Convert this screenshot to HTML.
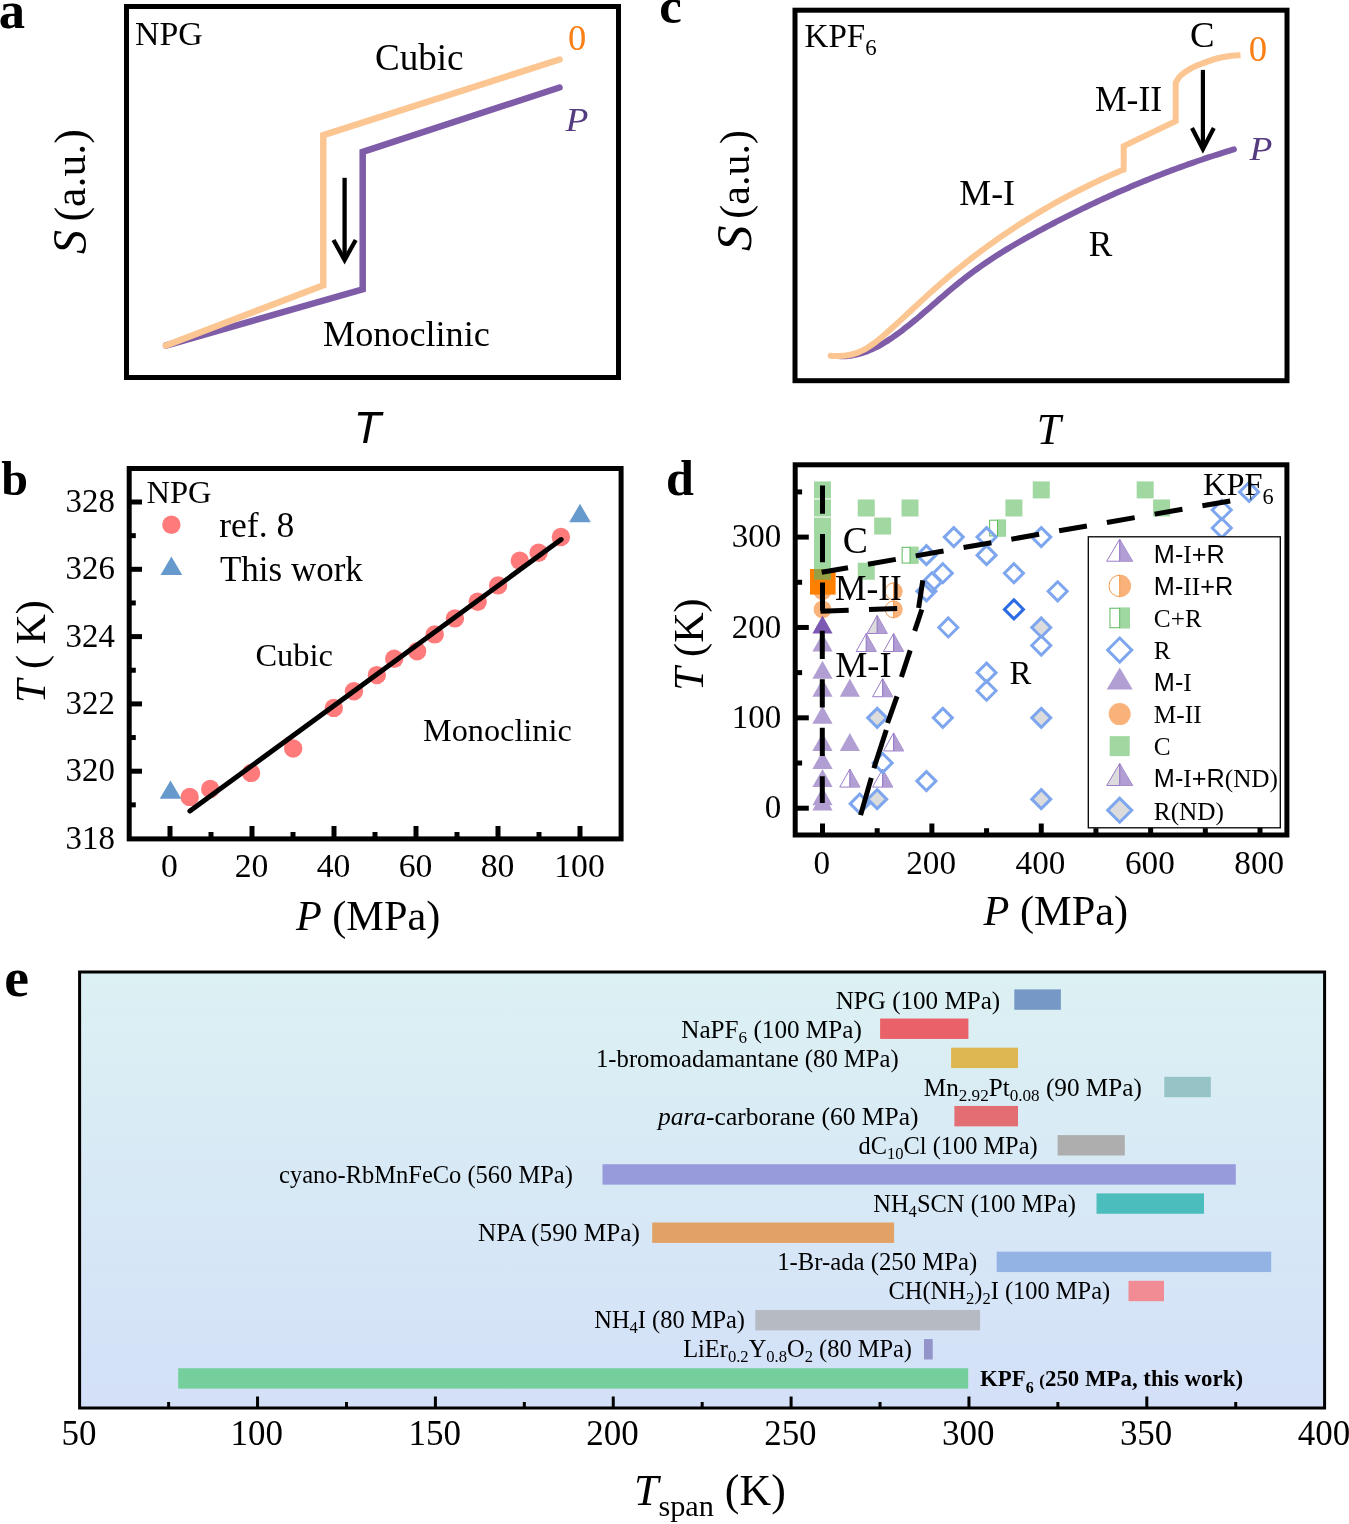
<!DOCTYPE html>
<html><head><meta charset="utf-8"><style>
html,body{margin:0;padding:0;background:#fff;overflow:hidden;width:1349px;height:1524px;}
svg{display:block;will-change:transform;}
</style></head><body>
<svg width="1349" height="1524" viewBox="0 0 1349 1524">
<rect width="1349" height="1524" fill="#fff"/>
<g transform="translate(-1.192,28.086) scale(1.09618) translate(0.000,-27.000)"><text x="0.00" y="27.00" font-family="'Liberation Serif', serif" font-size="48" text-anchor="start" fill="#000" font-weight="bold" font-style="normal">a</text></g>
<rect x="126.5" y="6.5" width="492" height="371" fill="none" stroke="#000" stroke-width="5"/>
<g transform="translate(135.093,44.893) scale(0.99435) translate(-136.000,-45.000)"><text x="136.00" y="45.00" font-family="'Liberation Serif', serif" font-size="34" text-anchor="start" fill="#000" font-weight="normal" font-style="normal">NPG</text></g>
<g transform="translate(374.937,70.501) scale(1.03134) translate(-376.000,-70.000)"><text x="376.00" y="70.00" font-family="'Liberation Serif', serif" font-size="36" text-anchor="start" fill="#000" font-weight="normal" font-style="normal">Cubic</text></g>
<g transform="translate(567.925,50.282) scale(1.07500) translate(-568.000,-49.600)"><text x="568.00" y="49.60" font-family="'Liberation Serif', serif" font-size="34" text-anchor="start" fill="#FA7F14" font-weight="normal" font-style="normal">0</text></g>
<g transform="translate(565.499,131.382) scale(1.00309) translate(-566.000,-131.400)"><g transform="translate(566,0) scale(1.1,1) translate(-566,0)"><text x="566.00" y="131.40" font-family="'Liberation Serif', serif" font-size="34" text-anchor="start" fill="#553B80" font-weight="normal" font-style="italic">P</text></g></g>
<polyline points="166,345.5 362.7,289.4 362.7,151.9 559.5,87.5" fill="none" stroke="#7F5CA8" stroke-width="6.5" stroke-linecap="round" stroke-linejoin="miter"/>
<polyline points="166,345.5 323.3,285.3 323.3,135.2 559.5,59.5" fill="none" stroke="#FCC693" stroke-width="6.5" stroke-linecap="round" stroke-linejoin="miter"/>
<line x1="344.6" y1="177.8" x2="344.6" y2="259" stroke="#000" stroke-width="4.3"/>
<polyline points="333.5,240 344.6,260 355.7,240" fill="none" stroke="#000" stroke-width="4.3" stroke-linejoin="miter"/>
<g transform="translate(322.995,346.200) scale(1.00550) translate(-324.000,-346.300)"><text x="324.00" y="346.30" font-family="'Liberation Serif', serif" font-size="36" text-anchor="start" fill="#000" font-weight="normal" font-style="normal">Monoclinic</text></g>
<g transform="translate(86.000,254.045) scale(1.04743) translate(-86.000,-253.500)"><text transform="translate(86,253.5) rotate(-90)" font-family="'Liberation Serif', serif" font-size="46" font-style="italic">S</text></g>
<g transform="translate(85.085,221.618) scale(1.00805) translate(-86.000,-220.000)"><text transform="translate(86,220) rotate(-90)" font-family="'Liberation Serif', serif" font-size="43.5">(a.u.)</text></g>
<g transform="translate(353.643,442.602) scale(0.99035) translate(-358.000,-442.900)"><text x="358.00" y="442.90" font-family="'Liberation Sans', sans-serif" font-size="45" text-anchor="start" fill="#000" font-weight="normal" font-style="italic">T</text></g>
<g transform="translate(659.357,23.400) scale(1.05849) translate(-660.000,-23.300)"><text x="660.00" y="23.30" font-family="'Liberation Serif', serif" font-size="48" text-anchor="start" fill="#000" font-weight="bold" font-style="normal">c</text></g>
<rect x="795" y="10.2" width="492" height="370.5" fill="none" stroke="#000" stroke-width="5"/>
<g transform="translate(804.568,46.858) scale(1.01771) translate(-805.000,-47.100)"><text x="805" y="47.1" font-family="'Liberation Serif', serif" font-size="32.5">KPF<tspan font-size="22.5" dy="8">6</tspan></text></g>
<g transform="translate(1189.957,46.792) scale(1.02126) translate(-1191.000,-45.900)"><text x="1191.00" y="45.90" font-family="'Liberation Serif', serif" font-size="36" text-anchor="start" fill="#000" font-weight="normal" font-style="normal">C</text></g>
<g transform="translate(1248.852,60.694) scale(1.02126) translate(-1249.000,-60.200)"><text x="1249.00" y="60.20" font-family="'Liberation Serif', serif" font-size="36" text-anchor="start" fill="#FA7F14" font-weight="normal" font-style="normal">0</text></g>
<g transform="translate(1249.534,159.966) scale(1.00309) translate(-1250.000,-159.500)"><g transform="translate(1250,0) scale(1.1,1) translate(-1250,0)"><text x="1250.00" y="159.50" font-family="'Liberation Serif', serif" font-size="34" text-anchor="start" fill="#553B80" font-weight="normal" font-style="italic">P</text></g></g>
<g transform="translate(1094.877,111.000) scale(1.01728) translate(-1096.000,-111.000)"><text x="1096.00" y="111.00" font-family="'Liberation Serif', serif" font-size="35" text-anchor="start" fill="#000" font-weight="normal" font-style="normal">M-II</text></g>
<g transform="translate(959.305,204.599) scale(0.99445) translate(-960.000,-204.400)"><text x="960.00" y="204.40" font-family="'Liberation Serif', serif" font-size="36" text-anchor="start" fill="#000" font-weight="normal" font-style="normal">M-I</text></g>
<g transform="translate(1088.786,256.000) scale(1.00698) translate(-1089.000,-256.000)"><text x="1089.00" y="256.00" font-family="'Liberation Serif', serif" font-size="35" text-anchor="start" fill="#000" font-weight="normal" font-style="normal">R</text></g>
<path d="M 840.00 356.33 C 840.50 356.33 842.00 356.34 843.00 356.31 C 844.00 356.28 845.00 356.23 846.00 356.15 C 847.00 356.08 848.00 355.98 849.00 355.86 C 850.00 355.74 851.00 355.60 852.00 355.43 C 853.00 355.27 854.00 355.08 855.00 354.88 C 856.00 354.67 857.00 354.44 858.00 354.19 C 859.00 353.94 860.00 353.66 861.00 353.37 C 862.00 353.07 863.00 352.75 864.00 352.41 C 865.00 352.07 866.00 351.71 867.00 351.33 C 868.00 350.95 869.00 350.54 870.00 350.11 C 871.00 349.69 872.00 349.24 873.00 348.77 C 874.00 348.31 875.00 347.82 876.00 347.31 C 877.00 346.81 878.00 346.28 879.00 345.74 C 880.00 345.20 881.00 344.63 882.00 344.06 C 883.00 343.48 884.00 342.88 885.00 342.27 C 886.00 341.66 887.00 341.04 888.00 340.40 C 889.00 339.75 890.00 339.10 891.00 338.43 C 892.00 337.76 893.00 337.07 894.00 336.38 C 895.00 335.68 896.00 334.97 897.00 334.25 C 898.00 333.53 899.00 332.79 900.00 332.05 C 901.00 331.30 902.00 330.55 903.00 329.78 C 904.00 329.02 905.00 328.24 906.00 327.46 C 907.00 326.67 908.00 325.88 909.00 325.08 C 910.00 324.28 911.00 323.47 912.00 322.65 C 913.00 321.84 914.00 321.01 915.00 320.18 C 916.00 319.36 917.00 318.52 918.00 317.68 C 919.00 316.84 920.00 315.99 921.00 315.14 C 922.00 314.29 923.00 313.44 924.00 312.58 C 925.00 311.72 926.00 310.86 927.00 310.00 C 928.00 309.13 929.00 308.27 930.00 307.40 C 931.00 306.53 932.00 305.66 933.00 304.79 C 934.00 303.93 935.00 303.06 936.00 302.19 C 937.00 301.32 938.00 300.45 939.00 299.58 C 940.00 298.71 941.00 297.85 942.00 296.98 C 943.00 296.12 944.00 295.26 945.00 294.40 C 946.00 293.54 947.00 292.69 948.00 291.84 C 949.00 290.98 950.00 290.14 951.00 289.30 C 952.00 288.46 953.00 287.62 954.00 286.79 C 955.00 285.96 956.00 285.13 957.00 284.32 C 958.00 283.50 959.00 282.69 960.00 281.89 C 961.00 281.09 962.00 280.29 963.00 279.50 C 964.00 278.72 965.00 277.94 966.00 277.17 C 967.00 276.40 968.00 275.63 969.00 274.88 C 970.00 274.12 971.00 273.37 972.00 272.63 C 973.00 271.89 974.00 271.15 975.00 270.42 C 976.00 269.70 977.00 268.97 978.00 268.26 C 979.00 267.54 980.00 266.84 981.00 266.13 C 982.00 265.43 983.00 264.74 984.00 264.05 C 985.00 263.36 986.00 262.68 987.00 262.00 C 988.00 261.32 989.00 260.65 990.00 259.98 C 991.00 259.32 992.00 258.66 993.00 258.00 C 994.00 257.35 995.00 256.70 996.00 256.06 C 997.00 255.41 998.00 254.78 999.00 254.14 C 1000.00 253.51 1001.00 252.88 1002.00 252.26 C 1003.00 251.63 1004.00 251.01 1005.00 250.40 C 1006.00 249.78 1007.00 249.18 1008.00 248.57 C 1009.00 247.96 1010.00 247.36 1011.00 246.77 C 1012.00 246.17 1013.00 245.58 1014.00 244.99 C 1015.00 244.40 1016.00 243.81 1017.00 243.23 C 1018.00 242.65 1019.00 242.07 1020.00 241.50 C 1021.00 240.92 1022.00 240.35 1023.00 239.78 C 1024.00 239.22 1025.00 238.65 1026.00 238.09 C 1027.00 237.53 1028.00 236.97 1029.00 236.42 C 1030.00 235.86 1031.00 235.31 1032.00 234.76 C 1033.00 234.21 1034.00 233.66 1035.00 233.11 C 1036.00 232.57 1037.00 232.02 1038.00 231.48 C 1039.00 230.94 1040.00 230.40 1041.00 229.86 C 1042.00 229.33 1043.00 228.79 1044.00 228.26 C 1045.00 227.72 1046.00 227.19 1047.00 226.66 C 1048.00 226.13 1049.00 225.60 1050.00 225.08 C 1051.00 224.55 1052.00 224.03 1053.00 223.50 C 1054.00 222.98 1055.00 222.46 1056.00 221.94 C 1057.00 221.43 1058.00 220.91 1059.00 220.39 C 1060.00 219.88 1061.00 219.37 1062.00 218.86 C 1063.00 218.35 1064.00 217.84 1065.00 217.33 C 1066.00 216.82 1067.00 216.32 1068.00 215.82 C 1069.00 215.31 1070.00 214.81 1071.00 214.31 C 1072.00 213.81 1073.00 213.31 1074.00 212.82 C 1075.00 212.32 1076.00 211.83 1077.00 211.34 C 1078.00 210.85 1079.00 210.36 1080.00 209.87 C 1081.00 209.38 1082.00 208.89 1083.00 208.41 C 1084.00 207.93 1085.00 207.44 1086.00 206.96 C 1087.00 206.48 1088.00 206.00 1089.00 205.53 C 1090.00 205.05 1091.00 204.58 1092.00 204.10 C 1093.00 203.63 1094.00 203.16 1095.00 202.69 C 1096.00 202.22 1097.00 201.75 1098.00 201.29 C 1099.00 200.82 1100.00 200.36 1101.00 199.90 C 1102.00 199.44 1103.00 198.98 1104.00 198.52 C 1105.00 198.06 1106.00 197.60 1107.00 197.15 C 1108.00 196.70 1109.00 196.24 1110.00 195.79 C 1111.00 195.34 1112.00 194.89 1113.00 194.45 C 1114.00 194.00 1115.00 193.56 1116.00 193.11 C 1117.00 192.67 1118.00 192.23 1119.00 191.79 C 1120.00 191.35 1121.00 190.91 1122.00 190.48 C 1123.00 190.04 1124.00 189.61 1125.00 189.18 C 1126.00 188.75 1127.00 188.32 1128.00 187.89 C 1129.00 187.46 1130.00 187.03 1131.00 186.61 C 1132.00 186.18 1133.00 185.76 1134.00 185.34 C 1135.00 184.92 1136.00 184.50 1137.00 184.08 C 1138.00 183.67 1139.00 183.25 1140.00 182.84 C 1141.00 182.43 1142.00 182.01 1143.00 181.60 C 1144.00 181.19 1145.00 180.79 1146.00 180.38 C 1147.00 179.98 1148.00 179.57 1149.00 179.17 C 1150.00 178.77 1151.00 178.37 1152.00 177.97 C 1153.00 177.57 1154.00 177.17 1155.00 176.78 C 1156.00 176.38 1157.00 175.99 1158.00 175.60 C 1159.00 175.21 1160.00 174.82 1161.00 174.43 C 1162.00 174.04 1163.00 173.66 1164.00 173.27 C 1165.00 172.89 1166.00 172.51 1167.00 172.13 C 1168.00 171.75 1169.00 171.37 1170.00 170.99 C 1171.00 170.62 1172.00 170.24 1173.00 169.87 C 1174.00 169.49 1175.00 169.12 1176.00 168.75 C 1177.00 168.38 1178.00 168.02 1179.00 167.65 C 1180.00 167.29 1181.00 166.92 1182.00 166.56 C 1183.00 166.20 1184.00 165.84 1185.00 165.48 C 1186.00 165.12 1187.00 164.76 1188.00 164.41 C 1189.00 164.05 1190.00 163.70 1191.00 163.35 C 1192.00 163.00 1193.00 162.65 1194.00 162.30 C 1195.00 161.96 1196.00 161.61 1197.00 161.27 C 1198.00 160.92 1199.00 160.58 1200.00 160.24 C 1201.00 159.90 1202.00 159.56 1203.00 159.22 C 1204.00 158.89 1205.00 158.55 1206.00 158.22 C 1207.00 157.89 1208.00 157.55 1209.00 157.22 C 1210.00 156.90 1211.00 156.57 1212.00 156.24 C 1213.00 155.92 1214.00 155.59 1215.00 155.27 C 1216.00 154.95 1217.00 154.63 1218.00 154.31 C 1219.00 153.99 1220.00 153.67 1221.00 153.36 C 1222.00 153.04 1223.00 152.73 1224.00 152.42 C 1225.00 152.11 1226.00 151.80 1227.00 151.49 C 1228.00 151.18 1229.00 150.87 1230.00 150.57 C 1231.00 150.26 1232.35 149.86 1233.00 149.66 C 1233.65 149.46 1233.75 149.44 1233.90 149.39 " fill="none" stroke="#7F5CA8" stroke-width="6" stroke-linecap="round"/>
<path d="M 830.60 355.87 C 831.10 355.88 832.60 355.92 833.60 355.94 C 834.60 355.95 835.60 355.96 836.60 355.96 C 837.60 355.96 838.60 355.94 839.60 355.91 C 840.60 355.88 841.60 355.83 842.60 355.76 C 843.60 355.69 844.60 355.61 845.60 355.49 C 846.60 355.37 847.60 355.24 848.60 355.07 C 849.60 354.90 850.60 354.70 851.60 354.47 C 852.60 354.23 853.60 353.97 854.60 353.66 C 855.60 353.36 856.60 353.01 857.60 352.63 C 858.60 352.25 859.60 351.83 860.60 351.37 C 861.60 350.92 862.60 350.42 863.60 349.90 C 864.60 349.37 865.60 348.81 866.60 348.22 C 867.60 347.62 868.60 347.00 869.60 346.35 C 870.60 345.69 871.60 345.01 872.60 344.30 C 873.60 343.59 874.60 342.86 875.60 342.09 C 876.60 341.33 877.60 340.54 878.60 339.74 C 879.60 338.93 880.60 338.10 881.60 337.26 C 882.60 336.41 883.60 335.55 884.60 334.67 C 885.60 333.80 886.60 332.91 887.60 332.01 C 888.60 331.12 889.60 330.21 890.60 329.31 C 891.60 328.40 892.60 327.49 893.60 326.58 C 894.60 325.67 895.60 324.76 896.60 323.85 C 897.60 322.94 898.60 322.03 899.60 321.11 C 900.60 320.20 901.60 319.28 902.60 318.36 C 903.60 317.44 904.60 316.51 905.60 315.59 C 906.60 314.66 907.60 313.73 908.60 312.80 C 909.60 311.87 910.60 310.94 911.60 310.01 C 912.60 309.08 913.60 308.15 914.60 307.22 C 915.60 306.29 916.60 305.36 917.60 304.43 C 918.60 303.50 919.60 302.57 920.60 301.65 C 921.60 300.72 922.60 299.80 923.60 298.88 C 924.60 297.96 925.60 297.04 926.60 296.13 C 927.60 295.22 928.60 294.31 929.60 293.40 C 930.60 292.50 931.60 291.60 932.60 290.70 C 933.60 289.81 934.60 288.92 935.60 288.04 C 936.60 287.15 937.60 286.27 938.60 285.40 C 939.60 284.52 940.60 283.65 941.60 282.79 C 942.60 281.92 943.60 281.06 944.60 280.20 C 945.60 279.35 946.60 278.50 947.60 277.65 C 948.60 276.80 949.60 275.96 950.60 275.13 C 951.60 274.29 952.60 273.46 953.60 272.63 C 954.60 271.80 955.60 270.98 956.60 270.16 C 957.60 269.34 958.60 268.53 959.60 267.72 C 960.60 266.91 961.60 266.10 962.60 265.30 C 963.60 264.50 964.60 263.71 965.60 262.91 C 966.60 262.12 967.60 261.34 968.60 260.55 C 969.60 259.77 970.60 258.99 971.60 258.22 C 972.60 257.45 973.60 256.68 974.60 255.91 C 975.60 255.15 976.60 254.39 977.60 253.63 C 978.60 252.87 979.60 252.12 980.60 251.37 C 981.60 250.63 982.60 249.88 983.60 249.14 C 984.60 248.40 985.60 247.67 986.60 246.94 C 987.60 246.21 988.60 245.48 989.60 244.76 C 990.60 244.04 991.60 243.32 992.60 242.61 C 993.60 241.89 994.60 241.18 995.60 240.48 C 996.60 239.77 997.60 239.07 998.60 238.37 C 999.60 237.67 1000.60 236.98 1001.60 236.29 C 1002.60 235.60 1003.60 234.91 1004.60 234.23 C 1005.60 233.55 1006.60 232.87 1007.60 232.20 C 1008.60 231.53 1009.60 230.86 1010.60 230.19 C 1011.60 229.52 1012.60 228.86 1013.60 228.20 C 1014.60 227.55 1015.60 226.89 1016.60 226.24 C 1017.60 225.59 1018.60 224.95 1019.60 224.30 C 1020.60 223.66 1021.60 223.02 1022.60 222.39 C 1023.60 221.75 1024.60 221.12 1025.60 220.49 C 1026.60 219.86 1027.60 219.24 1028.60 218.62 C 1029.60 218.00 1030.60 217.38 1031.60 216.77 C 1032.60 216.15 1033.60 215.54 1034.60 214.94 C 1035.60 214.33 1036.60 213.73 1037.60 213.13 C 1038.60 212.53 1039.60 211.94 1040.60 211.35 C 1041.60 210.75 1042.60 210.17 1043.60 209.58 C 1044.60 209.00 1045.60 208.42 1046.60 207.84 C 1047.60 207.26 1048.60 206.69 1049.60 206.11 C 1050.60 205.54 1051.60 204.98 1052.60 204.41 C 1053.60 203.85 1054.60 203.29 1055.60 202.73 C 1056.60 202.17 1057.60 201.62 1058.60 201.07 C 1059.60 200.51 1060.60 199.97 1061.60 199.42 C 1062.60 198.88 1063.60 198.34 1064.60 197.80 C 1065.60 197.26 1066.60 196.73 1067.60 196.19 C 1068.60 195.66 1069.60 195.13 1070.60 194.61 C 1071.60 194.08 1072.60 193.56 1073.60 193.04 C 1074.60 192.52 1075.60 192.01 1076.60 191.49 C 1077.60 190.98 1078.60 190.47 1079.60 189.97 C 1080.60 189.46 1081.60 188.95 1082.60 188.45 C 1083.60 187.95 1084.60 187.45 1085.60 186.96 C 1086.60 186.47 1087.60 185.97 1088.60 185.48 C 1089.60 184.99 1090.60 184.51 1091.60 184.03 C 1092.60 183.54 1093.60 183.06 1094.60 182.58 C 1095.60 182.11 1096.60 181.63 1097.60 181.16 C 1098.60 180.69 1099.60 180.22 1100.60 179.75 C 1101.60 179.29 1102.60 178.82 1103.60 178.36 C 1104.60 177.90 1105.60 177.44 1106.60 176.99 C 1107.60 176.53 1108.60 176.08 1109.60 175.63 C 1110.60 175.18 1111.60 174.73 1112.60 174.28 C 1113.60 173.84 1114.60 173.40 1115.60 172.96 C 1116.60 172.52 1117.60 172.08 1118.60 171.64 C 1119.60 171.21 1120.75 170.70 1121.60 170.35 C 1122.45 169.99 1123.35 169.64 1123.70 169.50 L 1123.7 146.1 L 1175.7 121.2 L 1175.7 82.8 C 1176.52 81.60 1178.05 78.02 1180.60 75.60 C 1183.15 73.18 1187.20 70.38 1191.00 68.30 C 1194.80 66.22 1199.08 64.73 1203.40 63.10 C 1207.72 61.47 1212.80 59.65 1216.90 58.50 C 1221.00 57.35 1224.07 56.75 1228.00 56.20 C 1231.93 55.65 1238.42 55.37 1240.50 55.20 " fill="none" stroke="#FCC693" stroke-width="6" stroke-linecap="butt" stroke-linejoin="miter"/>
<circle cx="830.6" cy="355.8" r="3" fill="#FCC693"/>
<line x1="1202.9" y1="69.9" x2="1202.9" y2="146" stroke="#000" stroke-width="4.2"/>
<polyline points="1192,128 1202.9,149.2 1213.8,128" fill="none" stroke="#000" stroke-width="4.2"/>
<g transform="translate(750.603,251.110) scale(1.10959) translate(-750.000,-250.000)"><text transform="translate(750,250) rotate(-90)" font-family="'Liberation Serif', serif" font-size="46" font-style="italic">S</text></g>
<g transform="translate(749.131,218.631) scale(0.96482) translate(-750.000,-217.000)"><text transform="translate(750,217) rotate(-90)" font-family="'Liberation Serif', serif" font-size="43.5">(a.u.)</text></g>
<g transform="translate(1036.724,444.000) scale(1.03143) translate(-1037.000,-444.000)"><text x="1037.00" y="444.00" font-family="'Liberation Serif', serif" font-size="42" text-anchor="start" fill="#000" font-weight="normal" font-style="italic">T</text></g>
<g transform="translate(1.367,495.298) scale(1.02284) translate(-1.000,-495.200)"><text x="1.00" y="495.20" font-family="'Liberation Serif', serif" font-size="47" text-anchor="start" fill="#000" font-weight="bold" font-style="normal">b</text></g>
<rect x="129.2" y="468.5" width="491.9" height="370.4" fill="none" stroke="#000" stroke-width="5"/>
<line x1="129.2" y1="804.85" x2="135.8" y2="804.85" stroke="#000" stroke-width="5"/>
<line x1="129.2" y1="771.20" x2="142" y2="771.20" stroke="#000" stroke-width="5"/>
<line x1="129.2" y1="737.55" x2="135.8" y2="737.55" stroke="#000" stroke-width="5"/>
<line x1="129.2" y1="703.90" x2="142" y2="703.90" stroke="#000" stroke-width="5"/>
<line x1="129.2" y1="670.25" x2="135.8" y2="670.25" stroke="#000" stroke-width="5"/>
<line x1="129.2" y1="636.60" x2="142" y2="636.60" stroke="#000" stroke-width="5"/>
<line x1="129.2" y1="602.95" x2="135.8" y2="602.95" stroke="#000" stroke-width="5"/>
<line x1="129.2" y1="569.30" x2="142" y2="569.30" stroke="#000" stroke-width="5"/>
<line x1="129.2" y1="535.65" x2="135.8" y2="535.65" stroke="#000" stroke-width="5"/>
<line x1="129.2" y1="502.00" x2="142" y2="502.00" stroke="#000" stroke-width="5"/>
<g transform="translate(114.813,848.693) scale(1.00448) translate(-113.600,-849.500)"><text x="113.60" y="849.50" font-family="'Liberation Serif', serif" font-size="32.7" text-anchor="end" fill="#000" font-weight="normal" font-style="normal">318</text></g>
<g transform="translate(114.813,781.393) scale(1.00448) translate(-113.600,-782.200)"><text x="113.60" y="782.20" font-family="'Liberation Serif', serif" font-size="32.7" text-anchor="end" fill="#000" font-weight="normal" font-style="normal">320</text></g>
<g transform="translate(114.813,714.093) scale(1.00448) translate(-113.600,-714.900)"><text x="113.60" y="714.90" font-family="'Liberation Serif', serif" font-size="32.7" text-anchor="end" fill="#000" font-weight="normal" font-style="normal">322</text></g>
<g transform="translate(114.813,646.793) scale(1.00448) translate(-113.600,-647.600)"><text x="113.60" y="647.60" font-family="'Liberation Serif', serif" font-size="32.7" text-anchor="end" fill="#000" font-weight="normal" font-style="normal">324</text></g>
<g transform="translate(114.813,579.493) scale(1.00448) translate(-113.600,-580.300)"><text x="113.60" y="580.30" font-family="'Liberation Serif', serif" font-size="32.7" text-anchor="end" fill="#000" font-weight="normal" font-style="normal">326</text></g>
<g transform="translate(114.813,512.193) scale(1.00448) translate(-113.600,-513.000)"><text x="113.60" y="513.00" font-family="'Liberation Serif', serif" font-size="32.7" text-anchor="end" fill="#000" font-weight="normal" font-style="normal">328</text></g>
<line x1="170.00" y1="838.9" x2="170.00" y2="826" stroke="#000" stroke-width="5"/>
<g transform="translate(169.545,877.198) scale(1.03030) translate(-170.000,-877.300)"><text x="170.00" y="877.30" font-family="'Liberation Serif', serif" font-size="32.7" text-anchor="middle" fill="#000" font-weight="normal" font-style="normal">0</text></g>
<line x1="211.00" y1="838.9" x2="211.00" y2="832" stroke="#000" stroke-width="5"/>
<line x1="252.00" y1="838.9" x2="252.00" y2="826" stroke="#000" stroke-width="5"/>
<g transform="translate(251.545,877.198) scale(1.03030) translate(-252.000,-877.300)"><text x="252.00" y="877.30" font-family="'Liberation Serif', serif" font-size="32.7" text-anchor="middle" fill="#000" font-weight="normal" font-style="normal">20</text></g>
<line x1="293.00" y1="838.9" x2="293.00" y2="832" stroke="#000" stroke-width="5"/>
<line x1="334.00" y1="838.9" x2="334.00" y2="826" stroke="#000" stroke-width="5"/>
<g transform="translate(333.545,877.198) scale(1.03030) translate(-334.000,-877.300)"><text x="334.00" y="877.30" font-family="'Liberation Serif', serif" font-size="32.7" text-anchor="middle" fill="#000" font-weight="normal" font-style="normal">40</text></g>
<line x1="375.00" y1="838.9" x2="375.00" y2="832" stroke="#000" stroke-width="5"/>
<line x1="416.00" y1="838.9" x2="416.00" y2="826" stroke="#000" stroke-width="5"/>
<g transform="translate(415.545,877.198) scale(1.03030) translate(-416.000,-877.300)"><text x="416.00" y="877.30" font-family="'Liberation Serif', serif" font-size="32.7" text-anchor="middle" fill="#000" font-weight="normal" font-style="normal">60</text></g>
<line x1="457.00" y1="838.9" x2="457.00" y2="832" stroke="#000" stroke-width="5"/>
<line x1="498.00" y1="838.9" x2="498.00" y2="826" stroke="#000" stroke-width="5"/>
<g transform="translate(497.545,877.198) scale(1.03030) translate(-498.000,-877.300)"><text x="498.00" y="877.30" font-family="'Liberation Serif', serif" font-size="32.7" text-anchor="middle" fill="#000" font-weight="normal" font-style="normal">80</text></g>
<line x1="539.00" y1="838.9" x2="539.00" y2="832" stroke="#000" stroke-width="5"/>
<line x1="580.00" y1="838.9" x2="580.00" y2="826" stroke="#000" stroke-width="5"/>
<g transform="translate(579.545,877.198) scale(1.03030) translate(-580.000,-877.300)"><text x="580.00" y="877.30" font-family="'Liberation Serif', serif" font-size="32.7" text-anchor="middle" fill="#000" font-weight="normal" font-style="normal">100</text></g>
<g transform="translate(146.414,503.000) scale(0.98603) translate(-147.000,-503.000)"><text x="147.00" y="503.00" font-family="'Liberation Serif', serif" font-size="33" text-anchor="start" fill="#000" font-weight="normal" font-style="normal">NPG</text></g>
<circle cx="171.4" cy="524.7" r="9.2" fill="#FF7A7A"/>
<g transform="translate(219.283,537.400) scale(1.01554) translate(-220.000,-537.100)"><text x="220.00" y="537.10" font-family="'Liberation Serif', serif" font-size="35" text-anchor="start" fill="#000" font-weight="normal" font-style="normal">ref. 8</text></g>
<polygon points="160.55,575.00 171.40,556.40 182.25,575.00" fill="#6699CC"/>
<g transform="translate(220.015,581.196) scale(0.98543) translate(-220.000,-581.300)"><text x="220.00" y="581.30" font-family="'Liberation Serif', serif" font-size="35.5" text-anchor="start" fill="#000" font-weight="normal" font-style="normal">This work</text></g>
<circle cx="189.7" cy="796.9" r="9.2" fill="#FF7A7A"/>
<circle cx="210.2" cy="788.9" r="9.2" fill="#FF7A7A"/>
<circle cx="251.1" cy="772.9" r="9.2" fill="#FF7A7A"/>
<circle cx="293.2" cy="748.5" r="9.2" fill="#FF7A7A"/>
<circle cx="333.8" cy="707.9" r="9.2" fill="#FF7A7A"/>
<circle cx="353.9" cy="691.2" r="9.2" fill="#FF7A7A"/>
<circle cx="376.8" cy="675.1" r="9.2" fill="#FF7A7A"/>
<circle cx="394.2" cy="658.8" r="9.2" fill="#FF7A7A"/>
<circle cx="417.1" cy="651.2" r="9.2" fill="#FF7A7A"/>
<circle cx="434.7" cy="634.4" r="9.2" fill="#FF7A7A"/>
<circle cx="454.9" cy="618.4" r="9.2" fill="#FF7A7A"/>
<circle cx="477.7" cy="601.8" r="9.2" fill="#FF7A7A"/>
<circle cx="498.1" cy="585.4" r="9.2" fill="#FF7A7A"/>
<circle cx="519.8" cy="560.7" r="9.2" fill="#FF7A7A"/>
<circle cx="538.6" cy="552.8" r="9.2" fill="#FF7A7A"/>
<circle cx="560.9" cy="537" r="9.2" fill="#FF7A7A"/>
<polygon points="159.70,798.70 170.50,780.50 181.30,798.70" fill="#6699CC"/>
<polygon points="569.20,522.20 580.00,503.80 590.80,522.20" fill="#6699CC"/>
<line x1="189.9" y1="811.1" x2="561.1" y2="539.6" stroke="#000" stroke-width="5" stroke-linecap="round"/>
<g transform="translate(255.486,665.993) scale(1.01351) translate(-255.000,-665.500)"><text x="255.00" y="665.50" font-family="'Liberation Serif', serif" font-size="32" text-anchor="start" fill="#000" font-weight="normal" font-style="normal">Cubic</text></g>
<g transform="translate(423.090,741.397) scale(1.00760) translate(-424.000,-741.600)"><text x="424.00" y="741.60" font-family="'Liberation Serif', serif" font-size="32" text-anchor="start" fill="#000" font-weight="normal" font-style="normal">Monoclinic</text></g>
<g transform="translate(44.976,702.934) scale(0.97803) translate(-45.200,-700.000)"><text transform="translate(45.2,700) rotate(-90)" font-family="'Liberation Serif', serif" font-size="43"><tspan font-style="italic">T</tspan> ( K)</text></g>
<g transform="translate(295.897,930.501) scale(0.98279) translate(-295.000,-930.000)"><text x="295" y="930" font-family="'Liberation Serif', serif" font-size="43"><tspan font-style="italic">P</tspan> (MPa)</text></g>
<g transform="translate(665.912,495.277) scale(1.04386) translate(-666.000,-495.200)"><text x="666.00" y="495.20" font-family="'Liberation Serif', serif" font-size="48" text-anchor="start" fill="#000" font-weight="bold" font-style="normal">d</text></g>
<rect x="814.00" y="481.41" width="17" height="17" fill="#A1D8A1"/>
<rect x="814.00" y="499.48" width="17" height="17" fill="#A1D8A1"/>
<rect x="814.00" y="517.55" width="17" height="17" fill="#A1D8A1"/>
<rect x="814.00" y="526.59" width="17" height="17" fill="#A1D8A1"/>
<rect x="814.00" y="535.63" width="17" height="17" fill="#A1D8A1"/>
<rect x="814.00" y="544.66" width="17" height="17" fill="#A1D8A1"/>
<rect x="814.00" y="553.70" width="17" height="17" fill="#A1D8A1"/>
<rect x="814.00" y="562.74" width="17" height="17" fill="#A1D8A1"/>
<rect x="857.75" y="499.48" width="17" height="17" fill="#A1D8A1"/>
<rect x="874.16" y="517.55" width="17" height="17" fill="#A1D8A1"/>
<rect x="901.50" y="499.48" width="17" height="17" fill="#A1D8A1"/>
<rect x="857.75" y="562.74" width="17" height="17" fill="#A1D8A1"/>
<rect x="1005.41" y="499.48" width="17" height="17" fill="#A1D8A1"/>
<rect x="1032.76" y="481.41" width="17" height="17" fill="#A1D8A1"/>
<rect x="1136.67" y="481.41" width="17" height="17" fill="#A1D8A1"/>
<rect x="1153.08" y="499.48" width="17" height="17" fill="#A1D8A1"/>
<rect x="902.15" y="547.31" width="15.7" height="15.7" fill="#fff" stroke="#5DBB5D" stroke-width="1"/><rect x="910.00" y="546.81" width="8.35" height="16.7" fill="#A1D8A1"/><line x1="910.00" y1="546.81" x2="910.00" y2="563.51" stroke="#5DBB5D" stroke-width="1"/>
<rect x="989.66" y="520.20" width="15.7" height="15.7" fill="#fff" stroke="#5DBB5D" stroke-width="1"/><rect x="997.51" y="519.70" width="8.35" height="16.7" fill="#A1D8A1"/><line x1="997.51" y1="519.70" x2="997.51" y2="536.40" stroke="#5DBB5D" stroke-width="1"/>
<circle cx="822.50" cy="591.31" r="8.9" fill="#F9B27A"/>
<circle cx="822.50" cy="609.39" r="8.9" fill="#F9B27A"/>
<circle cx="893.60" cy="591.31" r="8.4" fill="#fff" stroke="#F59A4E" stroke-width="1"/><path d="M 893.60 582.41 A 8.9 8.9 0 0 1 893.60 600.21 Z" fill="#F9B27A"/><line x1="893.60" y1="582.41" x2="893.60" y2="600.21" stroke="#F59A4E" stroke-width="1"/>
<circle cx="893.60" cy="609.39" r="8.4" fill="#fff" stroke="#F59A4E" stroke-width="1"/><path d="M 893.60 600.49 A 8.9 8.9 0 0 1 893.60 618.29 Z" fill="#F9B27A"/><line x1="893.60" y1="600.49" x2="893.60" y2="618.29" stroke="#F59A4E" stroke-width="1"/>
<rect x="810" y="569" width="25.6" height="25.6" fill="#FF8000"/>
<rect x="814.00" y="569" width="17" height="10.74" fill="#96A044"/>
<polygon points="812.40,651.53 822.50,633.53 832.60,651.53" fill="#B19ED3"/>
<polygon points="812.40,678.65 822.50,660.65 832.60,678.65" fill="#B19ED3"/>
<polygon points="812.40,696.72 822.50,678.72 832.60,696.72" fill="#B19ED3"/>
<polygon points="812.40,723.83 822.50,705.83 832.60,723.83" fill="#B19ED3"/>
<polygon points="812.40,750.94 822.50,732.94 832.60,750.94" fill="#B19ED3"/>
<polygon points="812.40,769.02 822.50,751.02 832.60,769.02" fill="#B19ED3"/>
<polygon points="812.40,787.09 822.50,769.09 832.60,787.09" fill="#B19ED3"/>
<polygon points="812.40,805.16 822.50,787.16 832.60,805.16" fill="#B19ED3"/>
<polygon points="812.40,810.59 822.50,792.59 832.60,810.59" fill="#B19ED3"/>
<polygon points="839.75,696.72 849.85,678.72 859.95,696.72" fill="#B19ED3"/>
<polygon points="839.75,750.94 849.85,732.94 859.95,750.94" fill="#B19ED3"/>
<polygon points="812.40,633.46 822.50,615.46 832.60,633.46" fill="#7B58B2"/>
<polygon points="856.15,651.53 866.25,633.53 876.35,651.53" fill="#fff" stroke="#9A7CC8" stroke-width="1"/><polygon points="866.25,633.53 876.35,651.53 866.25,651.53" fill="#B19ED3"/><line x1="866.25" y1="633.53" x2="866.25" y2="651.53" stroke="#9A7CC8" stroke-width="1.2"/>
<polygon points="883.50,651.53 893.60,633.53 903.70,651.53" fill="#fff" stroke="#9A7CC8" stroke-width="1"/><polygon points="893.60,633.53 903.70,651.53 893.60,651.53" fill="#B19ED3"/><line x1="893.60" y1="633.53" x2="893.60" y2="651.53" stroke="#9A7CC8" stroke-width="1.2"/>
<polygon points="872.56,696.72 882.66,678.72 892.76,696.72" fill="#fff" stroke="#9A7CC8" stroke-width="1"/><polygon points="882.66,678.72 892.76,696.72 882.66,696.72" fill="#B19ED3"/><line x1="882.66" y1="678.72" x2="882.66" y2="696.72" stroke="#9A7CC8" stroke-width="1.2"/>
<polygon points="883.50,750.94 893.60,732.94 903.70,750.94" fill="#fff" stroke="#9A7CC8" stroke-width="1"/><polygon points="893.60,732.94 903.70,750.94 893.60,750.94" fill="#B19ED3"/><line x1="893.60" y1="732.94" x2="893.60" y2="750.94" stroke="#9A7CC8" stroke-width="1.2"/>
<polygon points="839.75,787.09 849.85,769.09 859.95,787.09" fill="#fff" stroke="#9A7CC8" stroke-width="1"/><polygon points="849.85,769.09 859.95,787.09 849.85,787.09" fill="#B19ED3"/><line x1="849.85" y1="769.09" x2="849.85" y2="787.09" stroke="#9A7CC8" stroke-width="1.2"/>
<polygon points="872.56,787.09 882.66,769.09 892.76,787.09" fill="#fff" stroke="#9A7CC8" stroke-width="1"/><polygon points="882.66,769.09 892.76,787.09 882.66,787.09" fill="#B19ED3"/><line x1="882.66" y1="769.09" x2="882.66" y2="787.09" stroke="#9A7CC8" stroke-width="1.2"/>
<polygon points="867.09,633.46 877.19,615.46 887.29,633.46" fill="#DCDCDC" stroke="#9A7CC8" stroke-width="1"/><polygon points="877.19,615.46 887.29,633.46 877.19,633.46" fill="#B19ED3"/><line x1="877.19" y1="615.46" x2="877.19" y2="633.46" stroke="#9A7CC8" stroke-width="1.2"/>
<polygon points="926.41,545.66 935.91,555.16 926.41,564.66 916.91,555.16" fill="none" stroke="#7DA6EE" stroke-width="3"/>
<polygon points="953.76,527.59 963.26,537.09 953.76,546.59 944.26,537.09" fill="none" stroke="#7DA6EE" stroke-width="3"/>
<polygon points="986.57,527.59 996.07,537.09 986.57,546.59 977.07,537.09" fill="none" stroke="#7DA6EE" stroke-width="3"/>
<polygon points="986.57,545.66 996.07,555.16 986.57,564.66 977.07,555.16" fill="none" stroke="#7DA6EE" stroke-width="3"/>
<polygon points="1041.26,527.59 1050.76,537.09 1041.26,546.59 1031.76,537.09" fill="none" stroke="#7DA6EE" stroke-width="3"/>
<polygon points="942.82,563.74 952.32,573.24 942.82,582.74 933.32,573.24" fill="none" stroke="#7DA6EE" stroke-width="3"/>
<polygon points="931.88,572.78 941.38,582.28 931.88,591.78 922.38,582.28" fill="none" stroke="#7DA6EE" stroke-width="3"/>
<polygon points="926.41,581.81 935.91,591.31 926.41,600.81 916.91,591.31" fill="none" stroke="#7DA6EE" stroke-width="3"/>
<polygon points="1013.91,563.74 1023.41,573.24 1013.91,582.74 1004.41,573.24" fill="none" stroke="#7DA6EE" stroke-width="3"/>
<polygon points="1057.67,581.81 1067.17,591.31 1057.67,600.81 1048.17,591.31" fill="none" stroke="#7DA6EE" stroke-width="3"/>
<polygon points="948.29,617.96 957.79,627.46 948.29,636.96 938.79,627.46" fill="none" stroke="#7DA6EE" stroke-width="3"/>
<polygon points="1041.26,636.03 1050.76,645.53 1041.26,655.03 1031.76,645.53" fill="none" stroke="#7DA6EE" stroke-width="3"/>
<polygon points="986.57,663.15 996.07,672.65 986.57,682.15 977.07,672.65" fill="none" stroke="#7DA6EE" stroke-width="3"/>
<polygon points="986.57,681.22 996.07,690.72 986.57,700.22 977.07,690.72" fill="none" stroke="#7DA6EE" stroke-width="3"/>
<polygon points="942.82,708.33 952.32,717.83 942.82,727.33 933.32,717.83" fill="none" stroke="#7DA6EE" stroke-width="3"/>
<polygon points="926.41,771.59 935.91,781.09 926.41,790.59 916.91,781.09" fill="none" stroke="#7DA6EE" stroke-width="3"/>
<polygon points="882.66,753.52 892.16,763.02 882.66,772.52 873.16,763.02" fill="none" stroke="#7DA6EE" stroke-width="3"/>
<polygon points="859.69,794.18 869.19,803.68 859.69,813.18 850.19,803.68" fill="none" stroke="#7DA6EE" stroke-width="3"/>
<polygon points="1221.74,500.48 1231.24,509.98 1221.74,519.48 1212.24,509.98" fill="none" stroke="#7DA6EE" stroke-width="3"/>
<polygon points="1221.74,518.55 1231.24,528.05 1221.74,537.55 1212.24,528.05" fill="none" stroke="#7DA6EE" stroke-width="3"/>
<polygon points="1249.08,482.41 1258.58,491.91 1249.08,501.41 1239.58,491.91" fill="none" stroke="#7DA6EE" stroke-width="3"/>
<polygon points="1013.91,599.89 1023.41,609.39 1013.91,618.89 1004.41,609.39" fill="none" stroke="#2D6BE4" stroke-width="3"/>
<polygon points="1041.26,617.96 1050.76,627.46 1041.26,636.96 1031.76,627.46" fill="#DCDCDC" stroke="#7DA6EE" stroke-width="3"/>
<polygon points="1041.26,708.33 1050.76,717.83 1041.26,727.33 1031.76,717.83" fill="#DCDCDC" stroke="#7DA6EE" stroke-width="3"/>
<polygon points="1041.26,789.66 1050.76,799.16 1041.26,808.66 1031.76,799.16" fill="#DCDCDC" stroke="#7DA6EE" stroke-width="3"/>
<polygon points="877.19,708.33 886.69,717.83 877.19,727.33 867.69,717.83" fill="#DCDCDC" stroke="#7DA6EE" stroke-width="3"/>
<polygon points="877.19,789.66 886.69,799.16 877.19,808.66 867.69,799.16" fill="#DCDCDC" stroke="#7DA6EE" stroke-width="3"/>
<path d="M 821.7 572.3 L 1251 497.3" stroke="#000" stroke-width="5" fill="none" stroke-dasharray="28.2 20.3" stroke-dashoffset="1.5"/>
<path d="M 822.5 485.6 L 822.5 611.5" stroke="#000" stroke-width="5" fill="none" stroke-dasharray="28.2 20.3"/>
<path d="M 820.5 611.3 L 897.5 608.4" stroke="#000" stroke-width="5" fill="none" stroke-dasharray="28.2 20.3"/>
<path d="M 822.3 630.7 L 822.3 803" stroke="#000" stroke-width="5" fill="none" stroke-dasharray="28.2 20.3"/>
<line x1="860.6" y1="815.1" x2="871.3" y2="777.9" stroke="#000" stroke-width="5"/>
<line x1="873.9" y1="768.2" x2="886.3" y2="730.1" stroke="#000" stroke-width="5"/>
<line x1="887.6" y1="723" x2="897" y2="696.4" stroke="#000" stroke-width="5"/>
<line x1="901.4" y1="677" x2="910.2" y2="650.4" stroke="#000" stroke-width="5"/>
<line x1="914.7" y1="630.9" x2="921.8" y2="609.5" stroke="#000" stroke-width="5"/>
<line x1="918.6" y1="608" x2="922.8" y2="580.4" stroke="#000" stroke-width="5"/>
<g transform="translate(842.845,553.181) scale(1.07733) translate(-844.000,-553.000)"><text x="844.00" y="553.00" font-family="'Liberation Serif', serif" font-size="35" text-anchor="start" fill="#000" font-weight="normal" font-style="normal">C</text></g>
<g transform="translate(835.086,600.402) scale(1.01112) translate(-836.000,-600.100)"><text x="836.00" y="600.10" font-family="'Liberation Serif', serif" font-size="35" text-anchor="start" fill="#000" font-weight="normal" font-style="normal">M-II</text></g>
<g transform="translate(835.160,676.789) scale(1.03472) translate(-836.000,-676.700)"><text x="836.00" y="676.70" font-family="'Liberation Serif', serif" font-size="35" text-anchor="start" fill="#000" font-weight="normal" font-style="normal">M-I</text></g>
<g transform="translate(1009.609,683.958) scale(0.96758) translate(-1009.000,-683.500)"><text x="1009.00" y="683.50" font-family="'Liberation Serif', serif" font-size="34" text-anchor="start" fill="#000" font-weight="normal" font-style="normal">R</text></g>
<g transform="translate(1203.083,495.080) scale(1.01329) translate(-1204.000,-494.700)"><text x="1204" y="494.7" font-family="'Liberation Serif', serif" font-size="32">KPF<tspan font-size="22" dy="8.5">6</tspan></text></g>
<rect x="795.2" y="464.8" width="491.7" height="370.2" fill="none" stroke="#000" stroke-width="5"/>
<line x1="795.2" y1="808.20" x2="808.8" y2="808.20" stroke="#000" stroke-width="5"/>
<g transform="translate(781.212,818.500) scale(1.00875) translate(-780.300,-819.200)"><text x="780.30" y="819.20" font-family="'Liberation Serif', serif" font-size="32.7" text-anchor="end" fill="#000" font-weight="normal" font-style="normal">0</text></g>
<line x1="795.2" y1="763.02" x2="802.1" y2="763.02" stroke="#000" stroke-width="5"/>
<line x1="795.2" y1="717.83" x2="808.8" y2="717.83" stroke="#000" stroke-width="5"/>
<g transform="translate(781.212,728.130) scale(1.00875) translate(-780.300,-728.830)"><text x="780.30" y="728.83" font-family="'Liberation Serif', serif" font-size="32.7" text-anchor="end" fill="#000" font-weight="normal" font-style="normal">100</text></g>
<line x1="795.2" y1="672.65" x2="802.1" y2="672.65" stroke="#000" stroke-width="5"/>
<line x1="795.2" y1="627.46" x2="808.8" y2="627.46" stroke="#000" stroke-width="5"/>
<g transform="translate(781.212,637.760) scale(1.00875) translate(-780.300,-638.460)"><text x="780.30" y="638.46" font-family="'Liberation Serif', serif" font-size="32.7" text-anchor="end" fill="#000" font-weight="normal" font-style="normal">200</text></g>
<line x1="795.2" y1="582.28" x2="802.1" y2="582.28" stroke="#000" stroke-width="5"/>
<line x1="795.2" y1="537.09" x2="808.8" y2="537.09" stroke="#000" stroke-width="5"/>
<g transform="translate(781.212,547.390) scale(1.00875) translate(-780.300,-548.090)"><text x="780.30" y="548.09" font-family="'Liberation Serif', serif" font-size="32.7" text-anchor="end" fill="#000" font-weight="normal" font-style="normal">300</text></g>
<line x1="795.2" y1="491.91" x2="802.1" y2="491.91" stroke="#000" stroke-width="5"/>
<line x1="822.50" y1="835" x2="822.50" y2="823.5" stroke="#000" stroke-width="5"/>
<g transform="translate(821.749,874.408) scale(1.01523) translate(-822.500,-875.400)"><text x="822.50" y="875.40" font-family="'Liberation Serif', serif" font-size="32.7" text-anchor="middle" fill="#000" font-weight="normal" font-style="normal">0</text></g>
<line x1="877.19" y1="835" x2="877.19" y2="828.2" stroke="#000" stroke-width="5"/>
<line x1="931.88" y1="835" x2="931.88" y2="823.5" stroke="#000" stroke-width="5"/>
<g transform="translate(931.129,874.408) scale(1.01523) translate(-931.880,-875.400)"><text x="931.88" y="875.40" font-family="'Liberation Serif', serif" font-size="32.7" text-anchor="middle" fill="#000" font-weight="normal" font-style="normal">200</text></g>
<line x1="986.57" y1="835" x2="986.57" y2="828.2" stroke="#000" stroke-width="5"/>
<line x1="1041.26" y1="835" x2="1041.26" y2="823.5" stroke="#000" stroke-width="5"/>
<g transform="translate(1040.509,874.408) scale(1.01523) translate(-1041.260,-875.400)"><text x="1041.26" y="875.40" font-family="'Liberation Serif', serif" font-size="32.7" text-anchor="middle" fill="#000" font-weight="normal" font-style="normal">400</text></g>
<line x1="1095.95" y1="835" x2="1095.95" y2="828.2" stroke="#000" stroke-width="5"/>
<line x1="1150.64" y1="835" x2="1150.64" y2="823.5" stroke="#000" stroke-width="5"/>
<g transform="translate(1149.889,874.408) scale(1.01523) translate(-1150.640,-875.400)"><text x="1150.64" y="875.40" font-family="'Liberation Serif', serif" font-size="32.7" text-anchor="middle" fill="#000" font-weight="normal" font-style="normal">600</text></g>
<line x1="1205.33" y1="835" x2="1205.33" y2="828.2" stroke="#000" stroke-width="5"/>
<line x1="1260.02" y1="835" x2="1260.02" y2="823.5" stroke="#000" stroke-width="5"/>
<g transform="translate(1259.269,874.408) scale(1.01523) translate(-1260.020,-875.400)"><text x="1260.02" y="875.40" font-family="'Liberation Serif', serif" font-size="32.7" text-anchor="middle" fill="#000" font-weight="normal" font-style="normal">800</text></g>
<rect x="1088.3" y="536.8" width="192" height="291" fill="#fff" stroke="#000" stroke-width="1.3"/>
<polygon points="1106.70,561.23 1119.70,539.23 1132.70,561.23" fill="#fff" stroke="#9A7CC8" stroke-width="1"/><polygon points="1119.70,539.23 1132.70,561.23 1119.70,561.23" fill="#B19ED3"/><line x1="1119.70" y1="539.23" x2="1119.70" y2="561.23" stroke="#9A7CC8" stroke-width="1.2"/>
<circle cx="1119.70" cy="585.94" r="10.7" fill="#fff" stroke="#F59A4E" stroke-width="1"/><path d="M 1119.70 574.74 A 11.2 11.2 0 0 1 1119.70 597.14 Z" fill="#F9B27A"/><line x1="1119.70" y1="574.74" x2="1119.70" y2="597.14" stroke="#F59A4E" stroke-width="1"/>
<rect x="1109.95" y="608.23" width="19.5" height="19.5" fill="#fff" stroke="#5DBB5D" stroke-width="1"/><rect x="1119.70" y="607.73" width="10.25" height="20.5" fill="#A1D8A1"/><line x1="1119.70" y1="607.73" x2="1119.70" y2="628.23" stroke="#5DBB5D" stroke-width="1"/>
<polygon points="1119.70,638.02 1131.70,650.02 1119.70,662.02 1107.70,650.02" fill="none" stroke="#7DA6EE" stroke-width="3"/>
<polygon points="1106.70,689.39 1119.70,667.39 1132.70,689.39" fill="#B19ED3"/>
<circle cx="1119.70" cy="714.10" r="11" fill="#F9B27A"/>
<rect x="1109.70" y="736.14" width="20" height="20" fill="#A1D8A1"/>
<polygon points="1106.70,785.51 1119.70,763.51 1132.70,785.51" fill="#DCDCDC" stroke="#9A7CC8" stroke-width="1"/><polygon points="1119.70,763.51 1132.70,785.51 1119.70,785.51" fill="#B19ED3"/><line x1="1119.70" y1="763.51" x2="1119.70" y2="785.51" stroke="#9A7CC8" stroke-width="1.2"/>
<polygon points="1119.70,798.22 1131.70,810.22 1119.70,822.22 1107.70,810.22" fill="#DCDCDC" stroke="#7DA6EE" stroke-width="3"/>
<g transform="translate(1153.873,563.202) scale(1.01061) translate(-1156.000,-563.200)"><text x="1156" y="563.20" font-size="25" font-family="'Liberation Serif', serif"><tspan font-family="'Liberation Sans', sans-serif">M-</tspan><tspan font-family="'Liberation Serif', serif">I</tspan><tspan font-family="'Liberation Sans', sans-serif">+R</tspan></text></g>
<g transform="translate(1153.873,595.242) scale(1.01061) translate(-1156.000,-595.240)"><text x="1156" y="595.24" font-size="25" font-family="'Liberation Serif', serif"><tspan font-family="'Liberation Sans', sans-serif">M-</tspan><tspan font-family="'Liberation Serif', serif">II</tspan><tspan font-family="'Liberation Sans', sans-serif">+R</tspan></text></g>
<g transform="translate(1153.873,627.282) scale(1.01061) translate(-1156.000,-627.280)"><text x="1156" y="627.28" font-size="25" font-family="'Liberation Serif', serif"><tspan font-family="'Liberation Serif', serif">C+R</tspan></text></g>
<g transform="translate(1153.873,659.322) scale(1.01061) translate(-1156.000,-659.320)"><text x="1156" y="659.32" font-size="25" font-family="'Liberation Serif', serif"><tspan font-family="'Liberation Serif', serif">R</tspan></text></g>
<g transform="translate(1153.873,691.362) scale(1.01061) translate(-1156.000,-691.360)"><text x="1156" y="691.36" font-size="25" font-family="'Liberation Serif', serif"><tspan font-family="'Liberation Sans', sans-serif">M-</tspan><tspan font-family="'Liberation Serif', serif">I</tspan></text></g>
<g transform="translate(1153.873,723.402) scale(1.01061) translate(-1156.000,-723.400)"><text x="1156" y="723.40" font-size="25" font-family="'Liberation Serif', serif"><tspan font-family="'Liberation Serif', serif">M-II</tspan></text></g>
<g transform="translate(1153.873,755.442) scale(1.01061) translate(-1156.000,-755.440)"><text x="1156" y="755.44" font-size="25" font-family="'Liberation Serif', serif"><tspan font-family="'Liberation Serif', serif">C</tspan></text></g>
<g transform="translate(1153.873,787.482) scale(1.01061) translate(-1156.000,-787.480)"><text x="1156" y="787.48" font-size="25" font-family="'Liberation Serif', serif"><tspan font-family="'Liberation Sans', sans-serif">M-</tspan><tspan font-family="'Liberation Serif', serif">I</tspan><tspan font-family="'Liberation Sans', sans-serif">+R</tspan><tspan font-family="'Liberation Serif', serif">(ND)</tspan></text></g>
<g transform="translate(1153.873,819.522) scale(1.01061) translate(-1156.000,-819.520)"><text x="1156" y="819.52" font-size="25" font-family="'Liberation Serif', serif"><tspan font-family="'Liberation Serif', serif">R(ND)</tspan></text></g>
<g transform="translate(703.023,690.810) scale(1.00234) translate(-703.000,-688.200)"><text transform="translate(703,688.2) rotate(-90)" font-family="'Liberation Serif', serif" font-size="42"><tspan font-style="italic">T</tspan> (K)</text></g>
<g transform="translate(983.599,925.424) scale(1.00776) translate(-983.000,-923.900)"><text x="983" y="923.9" font-family="'Liberation Serif', serif" font-size="42"><tspan font-style="italic">P</tspan> (MPa)</text></g>
<g transform="translate(4.279,995.916) scale(1.07210) translate(-4.000,-995.100)"><text x="4.00" y="995.10" font-family="'Liberation Serif', serif" font-size="52" text-anchor="start" fill="#000" font-weight="bold" font-style="normal">e</text></g>
<defs><linearGradient id="eg" x1="0" y1="0" x2="0" y2="1"><stop offset="0" stop-color="#DCF1F3"/><stop offset="1" stop-color="#D3E0F8"/></linearGradient></defs>
<rect x="79.6" y="972" width="1245" height="436" fill="url(#eg)"/>
<rect x="1014.3" y="989.40" width="46.60" height="20.4" fill="#7598C6"/>
<rect x="880.1" y="1018.54" width="88.30" height="20.4" fill="#E9626A"/>
<rect x="951.1" y="1047.68" width="66.90" height="20.4" fill="#DEB652"/>
<rect x="1164.3" y="1076.82" width="46.50" height="20.4" fill="#96C3C5"/>
<rect x="954.4" y="1105.96" width="63.60" height="20.4" fill="#E26E74"/>
<rect x="1057.6" y="1135.10" width="67.20" height="20.4" fill="#AEAEAE"/>
<rect x="602.5" y="1164.24" width="633.30" height="20.4" fill="#979ADB"/>
<rect x="1096.5" y="1193.38" width="107.50" height="20.4" fill="#4CBDBD"/>
<rect x="652.2" y="1222.52" width="241.90" height="20.4" fill="#E2A265"/>
<rect x="996.7" y="1251.66" width="274.50" height="20.4" fill="#92B3E3"/>
<rect x="1128.5" y="1280.80" width="35.50" height="20.4" fill="#F28C94"/>
<rect x="755.3" y="1309.94" width="224.80" height="20.4" fill="#B6BAC3"/>
<rect x="924" y="1339.08" width="8.70" height="20.4" fill="#9294CA"/>
<rect x="178.2" y="1368.22" width="790.00" height="20.4" fill="#74CF9C"/>
<g transform="translate(1000.206,1009.000) scale(1.00435) translate(-999.500,-1009.000)"><text x="999.50" y="1009.00" font-family="'Liberation Serif', serif" font-size="25" text-anchor="end">NPG (100 MPa)</text></g>
<g transform="translate(861.811,1037.990) scale(1.00738) translate(-861.000,-1037.990)"><text x="861.00" y="1037.99" font-family="'Liberation Serif', serif" font-size="25" text-anchor="end">NaPF<tspan font-size="17" dy="5">6</tspan><tspan font-size="25" dy="-5"> (100 MPa)</tspan></text></g>
<g transform="translate(898.682,1066.980) scale(0.98647) translate(-898.300,-1066.980)"><text x="898.30" y="1066.98" font-family="'Liberation Serif', serif" font-size="25" text-anchor="end">1-bromoadamantane (80 MPa)</text></g>
<g transform="translate(1141.810,1095.970) scale(1.00792) translate(-1141.000,-1095.970)"><text x="1141.00" y="1095.97" font-family="'Liberation Serif', serif" font-size="25" text-anchor="end">Mn<tspan font-size="17" dy="5">2.92</tspan><tspan font-size="25" dy="-5">Pt</tspan><tspan font-size="17" dy="5">0.08</tspan><tspan font-size="25" dy="-5"> (90 MPa)</tspan></text></g>
<g transform="translate(918.530,1124.960) scale(1.02001) translate(-917.500,-1124.960)"><text x="917.50" y="1124.96" font-family="'Liberation Serif', serif" font-size="25" text-anchor="end"><tspan font-style="italic">para</tspan>-carborane (60 MPa)</text></g>
<g transform="translate(1037.570,1153.950) scale(0.97459) translate(-1037.200,-1153.950)"><text x="1037.20" y="1153.95" font-family="'Liberation Serif', serif" font-size="25" text-anchor="end">dC<tspan font-size="17" dy="5">10</tspan><tspan font-size="25" dy="-5">Cl (100 MPa)</tspan></text></g>
<g transform="translate(572.871,1182.940) scale(0.97981) translate(-572.600,-1182.940)"><text x="572.60" y="1182.94" font-family="'Liberation Serif', serif" font-size="25" text-anchor="end">cyano-RbMnFeCo (560 MPa)</text></g>
<g transform="translate(1075.983,1211.930) scale(0.97903) translate(-1075.800,-1211.930)"><text x="1075.80" y="1211.93" font-family="'Liberation Serif', serif" font-size="25" text-anchor="end">NH<tspan font-size="17" dy="5">4</tspan><tspan font-size="25" dy="-5">SCN (100 MPa)</tspan></text></g>
<g transform="translate(639.811,1240.920) scale(1.01076) translate(-639.000,-1240.920)"><text x="639.00" y="1240.92" font-family="'Liberation Serif', serif" font-size="25" text-anchor="end">NPA (590 MPa)</text></g>
<g transform="translate(977.185,1269.910) scale(0.98890) translate(-976.600,-1269.910)"><text x="976.60" y="1269.91" font-family="'Liberation Serif', serif" font-size="25" text-anchor="end">1-Br-ada (250 MPa)</text></g>
<g transform="translate(1110.167,1298.900) scale(0.97813) translate(-1109.600,-1298.900)"><text x="1109.60" y="1298.90" font-family="'Liberation Serif', serif" font-size="25" text-anchor="end">CH(NH<tspan font-size="17" dy="5">2</tspan><tspan font-size="25" dy="-5">)</tspan><tspan font-size="17" dy="5">2</tspan><tspan font-size="25" dy="-5">I (100 MPa)</tspan></text></g>
<g transform="translate(744.984,1327.890) scale(0.97649) translate(-744.800,-1327.890)"><text x="744.80" y="1327.89" font-family="'Liberation Serif', serif" font-size="25" text-anchor="end">NH<tspan font-size="17" dy="5">4</tspan><tspan font-size="25" dy="-5">I (80 MPa)</tspan></text></g>
<g transform="translate(911.970,1356.880) scale(0.97673) translate(-911.300,-1356.880)"><text x="911.30" y="1356.88" font-family="'Liberation Serif', serif" font-size="25" text-anchor="end">LiEr<tspan font-size="17" dy="5">0.2</tspan><tspan font-size="25" dy="-5">Y</tspan><tspan font-size="17" dy="5">0.8</tspan><tspan font-size="25" dy="-5">O</tspan><tspan font-size="17" dy="5">2</tspan><tspan font-size="25" dy="-5"> (80 MPa)</tspan></text></g>
<g transform="translate(979.994,1385.800) scale(0.99821) translate(-980.500,-1385.800)"><text x="980.5" y="1385.80" font-family="'Liberation Serif', serif" font-size="22.9" font-weight="bold">KPF<tspan font-size="16" dy="6.8">6</tspan><tspan font-size="22.9" dy="-6.8"> </tspan><tspan font-size="17" dy="0.7">(</tspan><tspan font-size="22.9" dy="-0.7">250 MPa, this work)</tspan></text></g>
<rect x="79.6" y="972" width="1245" height="436" fill="none" stroke="#000" stroke-width="3"/>
<line x1="168.62" y1="1408" x2="168.62" y2="1402" stroke="#000" stroke-width="3"/>
<line x1="257.55" y1="1408" x2="257.55" y2="1396.5" stroke="#000" stroke-width="3"/>
<line x1="346.47" y1="1408" x2="346.47" y2="1402" stroke="#000" stroke-width="3"/>
<line x1="435.40" y1="1408" x2="435.40" y2="1396.5" stroke="#000" stroke-width="3"/>
<line x1="524.33" y1="1408" x2="524.33" y2="1402" stroke="#000" stroke-width="3"/>
<line x1="613.25" y1="1408" x2="613.25" y2="1396.5" stroke="#000" stroke-width="3"/>
<line x1="702.18" y1="1408" x2="702.18" y2="1402" stroke="#000" stroke-width="3"/>
<line x1="791.10" y1="1408" x2="791.10" y2="1396.5" stroke="#000" stroke-width="3"/>
<line x1="880.02" y1="1408" x2="880.02" y2="1402" stroke="#000" stroke-width="3"/>
<line x1="968.95" y1="1408" x2="968.95" y2="1396.5" stroke="#000" stroke-width="3"/>
<line x1="1057.88" y1="1408" x2="1057.88" y2="1402" stroke="#000" stroke-width="3"/>
<line x1="1146.80" y1="1408" x2="1146.80" y2="1396.5" stroke="#000" stroke-width="3"/>
<line x1="1235.73" y1="1408" x2="1235.73" y2="1402" stroke="#000" stroke-width="3"/>
<g transform="translate(78.966,1445.180) scale(1.06778) translate(-79.700,-1444.800)"><text x="79.70" y="1444.80" font-family="'Liberation Serif', serif" font-size="32.7" text-anchor="middle" fill="#000" font-weight="normal" font-style="normal">50</text></g>
<g transform="translate(256.816,1445.180) scale(1.06778) translate(-257.550,-1444.800)"><text x="257.55" y="1444.80" font-family="'Liberation Serif', serif" font-size="32.7" text-anchor="middle" fill="#000" font-weight="normal" font-style="normal">100</text></g>
<g transform="translate(434.666,1445.180) scale(1.06778) translate(-435.400,-1444.800)"><text x="435.40" y="1444.80" font-family="'Liberation Serif', serif" font-size="32.7" text-anchor="middle" fill="#000" font-weight="normal" font-style="normal">150</text></g>
<g transform="translate(612.516,1445.180) scale(1.06778) translate(-613.250,-1444.800)"><text x="613.25" y="1444.80" font-family="'Liberation Serif', serif" font-size="32.7" text-anchor="middle" fill="#000" font-weight="normal" font-style="normal">200</text></g>
<g transform="translate(790.366,1445.180) scale(1.06778) translate(-791.100,-1444.800)"><text x="791.10" y="1444.80" font-family="'Liberation Serif', serif" font-size="32.7" text-anchor="middle" fill="#000" font-weight="normal" font-style="normal">250</text></g>
<g transform="translate(968.216,1445.180) scale(1.06778) translate(-968.950,-1444.800)"><text x="968.95" y="1444.80" font-family="'Liberation Serif', serif" font-size="32.7" text-anchor="middle" fill="#000" font-weight="normal" font-style="normal">300</text></g>
<g transform="translate(1146.066,1445.180) scale(1.06778) translate(-1146.800,-1444.800)"><text x="1146.80" y="1444.80" font-family="'Liberation Serif', serif" font-size="32.7" text-anchor="middle" fill="#000" font-weight="normal" font-style="normal">350</text></g>
<g transform="translate(1323.916,1445.180) scale(1.06778) translate(-1324.650,-1444.800)"><text x="1324.65" y="1444.80" font-family="'Liberation Serif', serif" font-size="32.7" text-anchor="middle" fill="#000" font-weight="normal" font-style="normal">400</text></g>
<g transform="translate(633.969,1504.880) scale(0.97618) translate(-634.000,-1505.400)"><text x="634" y="1505.4" font-family="'Liberation Serif', serif" font-size="45"><tspan font-style="italic">T</tspan><tspan font-size="31" dy="11.5">span</tspan><tspan dy="-11.5"> (K)</tspan></text></g>
</svg>
</body></html>
